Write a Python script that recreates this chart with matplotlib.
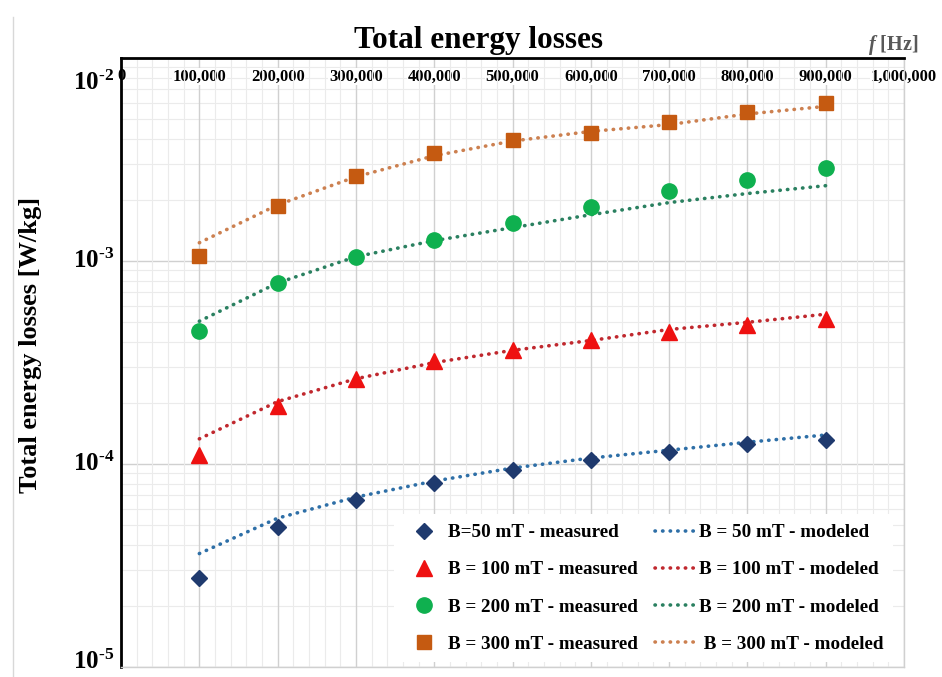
import matplotlib
matplotlib.use("Agg")
import matplotlib.pyplot as plt
from matplotlib.ticker import FixedLocator, MultipleLocator, LogLocator, NullFormatter, FixedFormatter

plt.rcParams['font.family'] = ['Liberation Serif', 'DejaVu Serif']
plt.rcParams['font.weight'] = 'bold'
plt.rcParams['mathtext.fontset'] = 'custom'
plt.rcParams['mathtext.rm'] = 'Liberation Serif:bold'
plt.rcParams['mathtext.bf'] = 'Liberation Serif:bold'
plt.rcParams['mathtext.it'] = 'Liberation Serif:bold:italic'

# frequencies [Hz]
freq = [100000, 200000, 300000, 400000, 500000, 600000, 700000, 800000, 900000]

# measured losses [W/kg]
meas_50 = [2.73e-5, 4.88e-5, 6.64e-5, 8.05e-5, 9.33e-5, 1.047e-4, 1.146e-4, 1.256e-4, 1.315e-4]
meas_100 = [1.11e-4, 1.94e-4, 2.61e-4, 3.20e-4, 3.63e-4, 4.06e-4, 4.45e-4, 4.82e-4, 5.16e-4]
meas_200 = [4.50e-4, 7.78e-4, 1.047e-3, 1.27e-3, 1.54e-3, 1.85e-3, 2.20e-3, 2.52e-3, 2.88e-3]
meas_300 = [1.06e-3, 1.87e-3, 2.61e-3, 3.39e-3, 3.93e-3, 4.25e-3, 4.82e-3, 5.40e-3, 5.98e-3]

# modeled losses [W/kg]
mod_50 = [3.62e-5, 5.41e-5, 6.87e-5, 8.24e-5, 9.55e-5, 1.07e-4, 1.17e-4, 1.28e-4, 1.39e-4]
mod_100 = [1.33e-4, 2.03e-4, 2.63e-4, 3.16e-4, 3.63e-4, 4.06e-4, 4.60e-4, 4.99e-4, 5.47e-4]
mod_200 = [5.05e-4, 7.80e-4, 1.05e-3, 1.26e-3, 1.46e-3, 1.69e-3, 1.94e-3, 2.15e-3, 2.35e-3]
mod_300 = [1.23e-3, 1.89e-3, 2.60e-3, 3.30e-3, 3.90e-3, 4.35e-3, 4.70e-3, 5.30e-3, 5.78e-3]

x_ticks = [0, 100000, 200000, 300000, 400000, 500000, 600000, 700000, 800000, 900000, 1000000]
x_ticklabels = ["0", "100,000", "200,000", "300,000", "400,000", "500,000",
                "600,000", "700,000", "800,000", "900,000", "1,000,000"]

y_ticks = [1e-5, 1e-4, 1e-3, 1e-2]
y_ticklabels = [r'10$^{\text{-5}}$', r'10$^{\text{-4}}$', r'10$^{\text{-3}}$', r'10$^{\text{-2}}$']
y_label_shift = [4, 0, 0, -18]  # points, the outer labels sit off their gridlines

fig = plt.figure(figsize=(9.42, 6.77), dpi=100)
ax = fig.add_axes([0.1285, 0.0148, 0.8312, 0.8995])

# measured markers
ax.plot(freq, meas_50, linestyle='none', marker='D', markersize=8, color='#1F3A6E',
        label='B=50 mT - measured', zorder=4)
ax.plot(freq, meas_100, linestyle='none', marker='^', markersize=11, color='#EE1111',
        label='B = 100 mT - measured', zorder=4)
ax.plot(freq, meas_200, linestyle='none', marker='o', markersize=11, color='#0FB04F',
        label='B = 200 mT - measured', zorder=4)
ax.plot(freq, meas_300, linestyle='none', marker='s', markersize=10, color='#C55A11',
        label='B = 300 mT - measured', zorder=4)

# modeled curves, round dots
dots = (0, (0.1, 2.0))
ax.plot(freq, mod_50, linestyle=dots, lw=2.6, dash_capstyle='round', color='#2E6FA7',
        label='B = 50 mT - modeled', zorder=3)
ax.plot(freq, mod_100, linestyle=dots, lw=2.6, dash_capstyle='round', color='#C0282E',
        label='B = 100 mT - modeled', zorder=3)
ax.plot(freq, mod_200, linestyle=dots, lw=2.6, dash_capstyle='round', color='#2A8060',
        label='B = 200 mT - modeled', zorder=3)
ax.plot(freq, mod_300, linestyle=dots, lw=2.6, dash_capstyle='round', color='#CC8050',
        label=' B = 300 mT - modeled', zorder=3)

ax.set_yscale('log')
ax.set_xlim(0, 1000000)
ax.set_ylim(1e-5, 1e-2)

# x ticks on top, labels inside the plot
ax.xaxis.set_major_locator(FixedLocator(x_ticks))
ax.xaxis.set_major_formatter(FixedFormatter(x_ticklabels))
ax.xaxis.set_minor_locator(MultipleLocator(20000))
ax.tick_params(axis='x', which='both', bottom=False, labelbottom=False, top=False,
               labeltop=True, length=0, pad=-19, labelsize=12)
for lab in ax.get_xticklabels():
    lab.set_bbox(dict(facecolor='white', edgecolor='none', pad=0.5))

# y ticks: gridlines from the locator, labels drawn as texts
ax.yaxis.set_major_locator(FixedLocator(y_ticks))
ax.yaxis.set_major_formatter(NullFormatter())
ax.yaxis.set_minor_locator(LogLocator(base=10, subs=[2, 3, 4, 5, 6, 7, 8, 9]))
ax.yaxis.set_minor_formatter(NullFormatter())
ax.tick_params(axis='y', which='both', length=0)
for v, lab, dy in zip(y_ticks, y_ticklabels, y_label_shift):
    ax.annotate(lab, xy=(0, v), xycoords=('axes fraction', 'data'),
                xytext=(-5, dy), textcoords='offset points',
                ha='right', va='center', fontsize=18, fontweight='bold')

ax.grid(which='major', color='#D0D0D0', lw=1.0)
ax.grid(which='minor', color='#EBEBEB', lw=0.8)
ax.set_axisbelow(True)
ax.yaxis.set_zorder(0.5)
ax.xaxis.set_zorder(0.6)  # keep the x labels above the horizontal gridlines

for side in ['left', 'top']:
    ax.spines[side].set_color('black')
    ax.spines[side].set_linewidth(2)
for side in ['right', 'bottom']:
    ax.spines[side].set_color('#D0D0D0')
    ax.spines[side].set_linewidth(1)

fig.text(0.032, 0.49, 'Total energy losses [W/kg]', rotation=90, ha='center', va='center',
         fontsize=19, fontweight='bold')

fig.text(0.508, 0.940, 'Total energy losses', ha='center', va='center',
         fontsize=22.5, fontweight='bold')
fig.text(0.948, 0.934, r'$\mathit{f}$ [Hz]', ha='center', va='center',
         fontsize=14.5, fontweight='bold', color='#595959')

leg = ax.legend(ncol=2, loc='lower right', bbox_to_anchor=(0.998, -0.008),
                frameon=True, facecolor='white', edgecolor='none', framealpha=1,
                fontsize=13.8, labelspacing=1.03, columnspacing=0.9,
                handlelength=2.1, handletextpad=0.2, borderpad=0.5, fancybox=False)
for t in leg.get_texts():
    t.set_fontweight('bold')

# thin frame line on the left of the image
fig.add_artist(plt.Line2D([0.014, 0.014], [0.0, 0.975], color='#D8D8D8', lw=1))

fig.savefig('out.png', dpi=100)
